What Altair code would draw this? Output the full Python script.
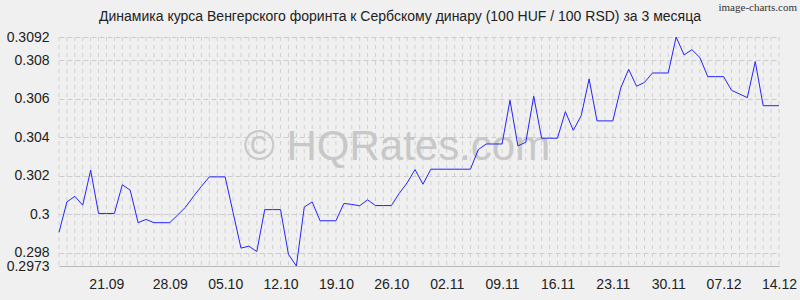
import altair as alt
import pandas as pd

# daily dates 14.09.2020 .. 14.12.2020
dates = pd.date_range("2020-09-14", "2020-12-14", freq="D").strftime("%Y-%m-%dT00:00:00").tolist()

values = [
    0.29905, 0.30063, 0.30092, 0.30046, 0.30228, 0.30003, 0.30003, 0.30003,
    0.30152, 0.30124, 0.29955, 0.29972, 0.29955, 0.29955, 0.29955, 0.29995,
    0.30036, 0.30092, 0.30144, 0.30193, 0.30193, 0.30193, 0.30008, 0.29823,
    0.29833, 0.29805, 0.30023, 0.30023, 0.30023, 0.29791, 0.29730, 0.30036,
    0.30063, 0.29965, 0.29965, 0.29965, 0.30055, 0.30050, 0.30043, 0.30074,
    0.30044, 0.30044, 0.30044, 0.30107, 0.30162, 0.30231, 0.30155, 0.30233,
    0.30233, 0.30233, 0.30233, 0.30233, 0.30233, 0.30335, 0.30364, 0.30364,
    0.30364, 0.30591, 0.30354, 0.30373, 0.30612, 0.30394, 0.30394, 0.30394,
    0.30532, 0.30435, 0.30511, 0.30702, 0.30484, 0.30484, 0.30484, 0.30655,
    0.30752, 0.30664, 0.30684, 0.30733, 0.30733, 0.30733, 0.30920, 0.30827,
    0.30854, 0.30813, 0.30714, 0.30714, 0.30714, 0.30643, 0.30624, 0.30605,
    0.30792, 0.30563, 0.30563, 0.30563,
]

y_ticks = [0.2973, 0.298, 0.3, 0.302, 0.304, 0.306, 0.308, 0.3092]
x_tick_days = [(9, 21), (9, 28), (10, 5), (10, 12), (10, 19), (10, 26), (11, 2),
               (11, 9), (11, 16), (11, 23), (11, 30), (12, 7), (12, 14)]

title_text = "Динамика курса Венгерского форинта к Сербскому динару (100 HUF / 100 RSD) за 3 месяца"
watermark_text = "© HQRates.com"
brand_text = "image-charts.com"

df = pd.DataFrame({"date": dates, "value": values})

FONT = "Liberation Sans"

xenc = alt.X(
    "date:T",
    scale=alt.Scale(domain=[alt.DateTime(year=2020, month=9, date=14),
                            alt.DateTime(year=2020, month=12, date=14)]),
    axis=alt.Axis(
        values=[alt.DateTime(year=2020, month=m, date=d) for m, d in x_tick_days],
        format="%d.%m",
        title=None,
        grid=False,
        ticks=False,
        domain=True,
        domainColor="#b8b8b8",
        labelFont=FONT,
        labelFontSize=14,
        labelColor="#222222",
        labelPadding=11,
        labelFlush=False,
        labelOverlap=False,
        labelOffset={"condition": {"test": "month(datum.value)==8 && date(datum.value)==21", "value": -8}, "value": 0},
    ),
)

yenc = alt.Y(
    "value:Q",
    scale=alt.Scale(domain=[0.2973, 0.3092], nice=False, zero=False),
    axis=alt.Axis(
        values=y_ticks,
        labelExpr="datum.value + ''",
        title=None,
        grid=True,
        gridDash=[5, 3],
        gridColor="#cccccc",
        domain=False,
        ticks=False,
        labelFont=FONT,
        labelFontSize=14,
        labelColor="#222222",
        labelPadding=10,
        labelOverlap=False,
    ),
)

base = alt.Chart(df)

vgrid = base.mark_rule(color="#d0d0d0", strokeWidth=1, strokeDash=[4, 4]).encode(x=xenc)

watermark = alt.Chart(pd.DataFrame({"t": [watermark_text]})).mark_text(
    font=FONT, fontSize=42, color="#c8c8c8", align="center", baseline="alphabetic"
).encode(text="t:N", x=alt.value(338), y=alt.value(123))

line = base.mark_line(color="#2424ff", strokeWidth=1).encode(x=xenc, y=yenc)

title = alt.Chart(pd.DataFrame({"t": [title_text]})).mark_text(
    font=FONT, fontSize=14, color="#222222", align="center", baseline="middle"
).encode(text="t:N", x=alt.value(341), y=alt.value(-20))

brand = alt.Chart(pd.DataFrame({"t": [brand_text]})).mark_text(
    font="Liberation Sans Narrow", fontSize=11, color="#333333", align="right", baseline="middle"
).encode(text="t:N", x=alt.value(738), y=alt.value(-29))

chart = alt.layer(vgrid, watermark, line, title, brand).properties(
    width=720,
    height=229,
    autosize="none",
    padding={"left": 59, "top": 37, "right": 21, "bottom": 34},
    background="#f0f0f0",
).configure_view(stroke=None)

chart.save("out.html", embed_options={"renderer": "svg", "actions": False})
